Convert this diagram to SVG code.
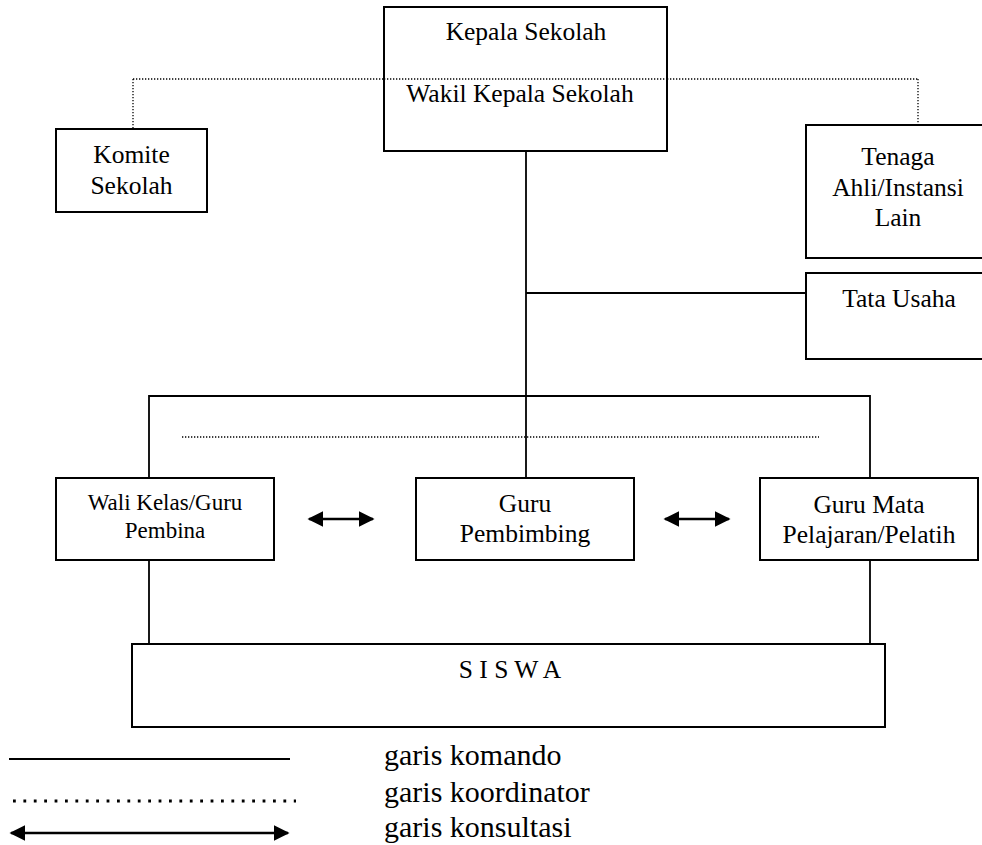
<svg xmlns="http://www.w3.org/2000/svg" width="982" height="845" viewBox="0 0 982 845">
<defs>
<style>
.box{fill:#fff;stroke:#000;stroke-width:2}
.t{font-family:"Liberation Serif","Times New Roman",serif;font-size:25.5px;fill:#000;text-anchor:middle}
.ts{font-size:23px}
.lg{font-family:"Liberation Serif","Times New Roman",serif;font-size:30px;fill:#000}
.cmd{stroke:#000;stroke-width:1.8;fill:none}
.dot{stroke:#000;stroke-width:1.3;stroke-dasharray:1.3 1.7;fill:none}
.arr{stroke:#000;stroke-width:2.6;fill:none}
</style>
<marker id="ah" viewBox="0 0 10 10" refX="9" refY="5" markerWidth="6" markerHeight="6" orient="auto-start-reverse" markerUnits="strokeWidth">
<path d="M0,0 L10,5 L0,10 z" fill="#000"/>
</marker>
</defs>
<rect width="982" height="845" fill="#fff"/>
<g id="connectors">
<line class="dot" x1="133" y1="79" x2="918" y2="79"/>
<line class="dot" x1="133" y1="79" x2="133" y2="129"/>
<line class="dot" x1="918" y1="79" x2="918" y2="125"/>
<line class="cmd" x1="526" y1="151" x2="526" y2="478"/>
<line class="cmd" x1="526" y1="293" x2="806" y2="293"/>
<polyline class="cmd" points="149,478 149,396 870,396 870,478"/>
<line class="dot" x1="182" y1="437" x2="819" y2="437"/>
<line class="cmd" x1="149" y1="560" x2="149" y2="644"/>
<line class="cmd" x1="870" y1="560" x2="870" y2="644"/>
<line class="arr" x1="309" y1="519" x2="373" y2="519" marker-start="url(#ah)" marker-end="url(#ah)"/>
<line class="arr" x1="665" y1="519" x2="729" y2="519" marker-start="url(#ah)" marker-end="url(#ah)"/>
</g>
<g id="kepala">
<rect class="box" x="384" y="7" width="283" height="144"/>
<line class="dot" x1="384" y1="79" x2="667" y2="79"/>
<text class="t" x="526" y="40">Kepala Sekolah</text>
<text class="t" x="520" y="102">Wakil Kepala Sekolah</text>
</g>
<g id="komite">
<rect class="box" x="56" y="129" width="151" height="83"/>
<text class="t" x="131.5" y="163">Komite</text>
<text class="t" x="131.5" y="194">Sekolah</text>
</g>
<g id="tenaga">
<rect class="box" x="806" y="125" width="190" height="133"/>
<text class="t" x="898" y="165">Tenaga</text>
<text class="t" x="898" y="196">Ahli/Instansi</text>
<text class="t" x="898" y="226">Lain</text>
</g>
<g id="tata-usaha">
<rect class="box" x="806" y="273" width="190" height="86"/>
<text class="t" x="899" y="307">Tata Usaha</text>
</g>
<g id="wali-kelas">
<rect class="box" x="56" y="478" width="218" height="82"/>
<text class="t ts" x="165" y="510">Wali Kelas/Guru</text>
<text class="t ts" x="165" y="538">Pembina</text>
</g>
<g id="guru-pembimbing">
<rect class="box" x="416" y="478" width="218" height="82"/>
<text class="t" x="525" y="512">Guru</text>
<text class="t" x="525" y="542">Pembimbing</text>
</g>
<g id="guru-mapel">
<rect class="box" x="760" y="478" width="218" height="82"/>
<text class="t" x="869" y="513">Guru Mata</text>
<text class="t" x="869" y="543">Pelajaran/Pelatih</text>
</g>
<g id="siswa">
<rect class="box" x="132" y="644" width="753" height="83"/>
<text class="t" x="510" y="678">S I S W A</text>
</g>
<g id="legend">
<line x1="9" y1="759" x2="290" y2="759" stroke="#000" stroke-width="2"/>
<line x1="13" y1="801" x2="296" y2="801" stroke="#000" stroke-width="2.8" stroke-dasharray="2.8 7.6"/>
<line class="arr" x1="11" y1="833" x2="288" y2="833" marker-start="url(#ah)" marker-end="url(#ah)"/>
<text class="lg" x="384" y="765">garis komando</text>
<text class="lg" x="384" y="802">garis koordinator</text>
<text class="lg" x="384" y="837">garis konsultasi</text>
</g>
</svg>
